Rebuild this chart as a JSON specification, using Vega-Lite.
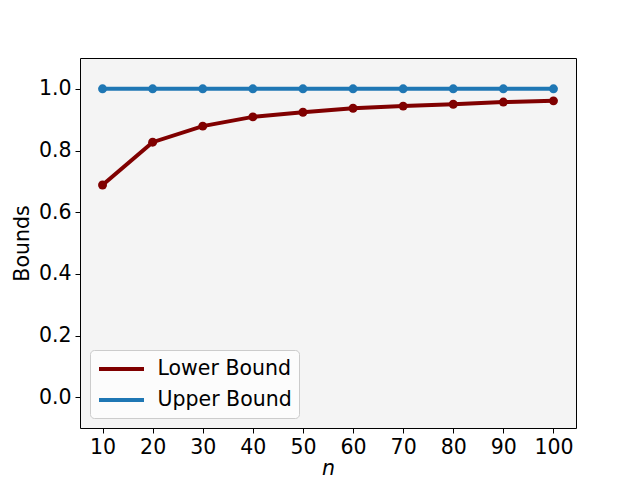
{
  "$schema": "https://vega.github.io/schema/vega-lite/v6.json",
  "width": 496,
  "height": 370,
  "autosize": {"type": "none"},
  "padding": {"left": 80, "top": 58, "right": 64, "bottom": 52},
  "config": {
    "font": "DejaVu Sans",
    "view": {"stroke": "black", "strokeWidth": 1, "fill": "#f4f4f4"},
    "axis": {
      "grid": false,
      "domain": false,
      "tickColor": "black",
      "tickSize": 5,
      "labelFontSize": 20.5,
      "labelColor": "black",
      "labelPadding": 4,
      "titleFontSize": 20.5,
      "titleFontWeight": "normal",
      "titleColor": "black"
    }
  },
  "data": {
    "values": [
      {"n": 10, "bound": 0.688, "series": "Lower Bound"},
      {"n": 20, "bound": 0.827, "series": "Lower Bound"},
      {"n": 30, "bound": 0.879, "series": "Lower Bound"},
      {"n": 40, "bound": 0.909, "series": "Lower Bound"},
      {"n": 50, "bound": 0.924, "series": "Lower Bound"},
      {"n": 60, "bound": 0.937, "series": "Lower Bound"},
      {"n": 70, "bound": 0.944, "series": "Lower Bound"},
      {"n": 80, "bound": 0.950, "series": "Lower Bound"},
      {"n": 90, "bound": 0.957, "series": "Lower Bound"},
      {"n": 100, "bound": 0.961, "series": "Lower Bound"},
      {"n": 10, "bound": 1.0, "series": "Upper Bound"},
      {"n": 20, "bound": 1.0, "series": "Upper Bound"},
      {"n": 30, "bound": 1.0, "series": "Upper Bound"},
      {"n": 40, "bound": 1.0, "series": "Upper Bound"},
      {"n": 50, "bound": 1.0, "series": "Upper Bound"},
      {"n": 60, "bound": 1.0, "series": "Upper Bound"},
      {"n": 70, "bound": 1.0, "series": "Upper Bound"},
      {"n": 80, "bound": 1.0, "series": "Upper Bound"},
      {"n": 90, "bound": 1.0, "series": "Upper Bound"},
      {"n": 100, "bound": 1.0, "series": "Upper Bound"}
    ]
  },
  "encoding": {
    "x": {
      "field": "n",
      "type": "quantitative",
      "scale": {"domain": [5.5, 104.5], "nice": false, "zero": false},
      "axis": {
        "values": [10, 20, 30, 40, 50, 60, 70, 80, 90, 100],
        "title": "n",
        "titleFontStyle": "italic",
        "titlePadding": 1
      }
    },
    "y": {
      "field": "bound",
      "type": "quantitative",
      "scale": {"domain": [-0.1, 1.1], "nice": false, "zero": false},
      "axis": {
        "values": [0, 0.2, 0.4, 0.6, 0.8, 1.0],
        "format": ".1f",
        "title": "Bounds",
        "titlePadding": 6
      }
    },
    "color": {
      "field": "series",
      "type": "nominal",
      "scale": {"domain": ["Lower Bound", "Upper Bound"], "range": ["#800000", "#1f77b4"]},
      "legend": {
        "title": null,
        "orient": "none",
        "legendX": 10,
        "legendY": 292,
        "symbolType": "M-2.25,0H2.25",
        "symbolSize": 400,
        "symbolOffset": 12.5,
        "symbolStrokeWidth": 4,
        "labelFontSize": 20.5,
        "labelColor": "black",
        "labelOffset": 24,
        "rowPadding": 8,
        "padding": 7,
        "fillColor": "#fcfcfc",
        "strokeColor": "#cccccc",
        "cornerRadius": 4
      }
    }
  },
  "layer": [
    {"mark": {"type": "line", "strokeWidth": 4}},
    {"mark": {"type": "circle", "size": 80, "opacity": 1}}
  ]
}
